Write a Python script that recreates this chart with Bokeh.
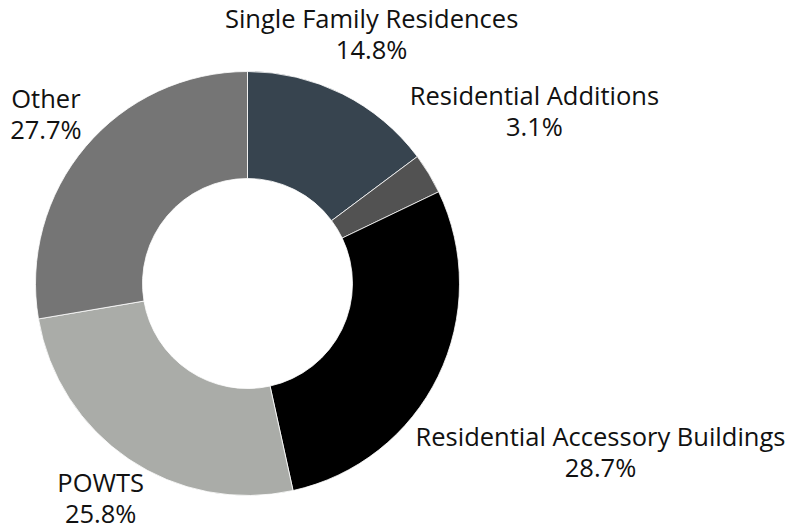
import math
from bokeh.plotting import figure
from bokeh.models import Range1d, ColumnDataSource
from bokeh.core.properties import value
from bokeh.embed import file_html
from bokeh.resources import INLINE

categories = ["Single Family Residences", "Residential Additions",
              "Residential Accessory Buildings", "POWTS", "Other"]
shares = [14.8, 3.1, 28.7, 25.8, 27.7]
colors = ["#37444f", "#525252", "#000000", "#aaaca8", "#757575"]

W, H = 804, 529
p = figure(width=W, height=H, output_backend="svg", toolbar_location=None,
           x_range=Range1d(0, W), y_range=Range1d(0, H), min_border=0)
p.axis.visible = False
p.grid.visible = False
p.outline_line_color = None
p.background_fill_color = "white"

# picture coords -> data coords
def px(x):
    return x
def py(y):
    return H - y

cx, cy = px(247), py(283)
R_out, R_in = 212, 105

total = sum(shares)
starts, ends, mids = [], [], []
acc = 0.0
for s in shares:
    a0 = acc / total
    acc += s
    a1 = acc / total
    starts.append(math.pi / 2 - a0 * 2 * math.pi)
    ends.append(math.pi / 2 - a1 * 2 * math.pi)
    mids.append((a0 + a1) / 2 * 2 * math.pi)

src = ColumnDataSource(dict(x=[cx] * len(shares), y=[cy] * len(shares),
                            start=starts, end=ends, color=colors))
p.annular_wedge(x="x", y="y", inner_radius=R_in, outer_radius=R_out,
                start_angle="start", end_angle="end", direction="clock",
                fill_color="color", line_color="white", line_width=0.8,
                source=src)

# label anchors from slice mid-angles, with layout nudges
R_lab = 277
nudges = [(0, 2), (50, 30), (104, -47), (8, 16), (10, -9)]
lx, ly1, ly2, t1, t2 = [], [], [], [], []
for cat, s, m, (dx, dy) in zip(categories, shares, mids, nudges):
    ax = cx + math.sin(m) * R_lab + dx
    ay = cy + math.cos(m) * R_lab + dy
    lx.append(ax)
    ly1.append(ay + 15.5)
    ly2.append(ay - 15.5)
    t1.append(cat)
    t2.append(f"{s:.1f}%")

for ys, ts in ((ly1, t1), (ly2, t2)):
    p.text(x=lx, y=ys, text=ts, text_align="center", text_baseline="middle",
           text_font=value("Open Sans"), text_font_size="25.5px",
           text_color="#111111")

open("out.html", "w").write(file_html(p, INLINE))
